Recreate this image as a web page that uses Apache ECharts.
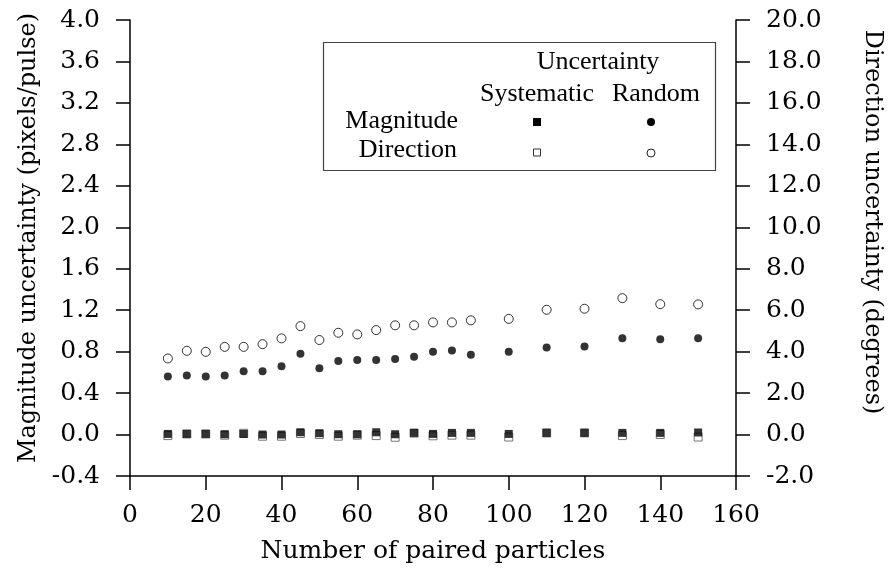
<!DOCTYPE html>
<html>
<head>
<meta charset="utf-8">
<script src="https://cdn.jsdelivr.net/npm/echarts@6/dist/echarts.min.js"></script>
<style>
html,body{margin:0;padding:0;background:#fff;}
#chart{width:892px;height:578px;}
</style>
</head>
<body>
<div id="chart"></div>
<script>
// Number of paired particles
var pairedParticles = [10,15,20,25,30,35,40,45,50,55,60,65,70,75,80,85,90,100,110,120,130,140,150];
// Magnitude uncertainty (pixels/pulse), left axis
var magnitudeSystematic = [0.006,0.006,0.006,0.003,0.006,0.0,0.0,0.022,0.013,0.003,0.003,0.022,0.003,0.016,0.006,0.016,0.016,0.006,0.016,0.016,0.016,0.016,0.02];
var magnitudeRandom = [0.56,0.57,0.56,0.57,0.61,0.61,0.66,0.78,0.64,0.71,0.72,0.72,0.73,0.75,0.80,0.81,0.77,0.80,0.84,0.85,0.93,0.92,0.93];
// Direction uncertainty (degrees), right axis
var directionSystematic = [-0.05,0.03,0.03,-0.03,0.06,-0.08,-0.08,0.05,0.0,-0.08,-0.03,-0.05,-0.13,0.07,-0.06,-0.03,-0.03,-0.12,0.08,0.08,-0.05,0.0,-0.12];
var directionRandom = [3.67,4.04,3.99,4.23,4.23,4.36,4.64,5.23,4.56,4.91,4.83,5.04,5.27,5.27,5.41,5.41,5.51,5.58,6.02,6.07,6.58,6.29,6.28];

var xAxisName = 'Number of paired particles';
var leftAxisName = 'Magnitude uncertainty (pixels/pulse)';
var rightAxisName = 'Direction uncertainty (degrees)';
var legendHeader = 'Uncertainty';
var legendColumns = ['Systematic', 'Random'];
var legendRows = ['Magnitude', 'Direction'];

function pairs(xs, ys) { return xs.map(function (x, i) { return [x, ys[i]]; }); }

var axisFont = 'DejaVu Serif';
var legendFont = 'Liberation Serif';
var axisLine = { show: true, onZero: false, lineStyle: { color: '#000', width: 1.5 } };
var axisTick = { show: true, length: 14, inside: false, lineStyle: { color: '#000', width: 1.5 } };
var lf = '26px "' + legendFont + '"';

var chart = echarts.init(document.getElementById('chart'), null, { renderer: 'canvas' });
chart.setOption({
  backgroundColor: '#fff',
  animation: false,
  grid: { left: 130, right: 155, top: 20, bottom: 102, containLabel: false },
  xAxis: {
    type: 'value', min: 0, max: 160, interval: 20,
    name: xAxisName, nameLocation: 'middle', nameGap: 63,
    nameTextStyle: { fontFamily: axisFont, fontSize: 25, color: '#000' },
    axisLine: axisLine, axisTick: axisTick, splitLine: { show: false },
    axisLabel: { margin: 27, fontFamily: axisFont, fontSize: 25, color: '#000' }
  },
  yAxis: [{
    type: 'value', position: 'left', min: -0.4, max: 4.0, interval: 0.4,
    name: leftAxisName, nameLocation: 'middle', nameGap: 86, nameRotate: 90,
    nameTextStyle: { fontFamily: axisFont, fontSize: 24, color: '#000', padding: [0, 0, 0, 20] },
    axisLine: axisLine, axisTick: axisTick, splitLine: { show: false },
    axisLabel: { margin: 30, fontFamily: axisFont, fontSize: 25, color: '#000',
      formatter: function (v) { return (Math.round(v * 10) / 10).toFixed(1); } }
  }, {
    type: 'value', position: 'right', min: -2, max: 20, interval: 2,
    name: rightAxisName, nameLocation: 'middle', nameGap: 124, nameRotate: -90,
    nameTextStyle: { fontFamily: axisFont, fontSize: 24, color: '#000', padding: [0, 52, 0, 0] },
    axisLine: axisLine, axisTick: axisTick, splitLine: { show: false },
    axisLabel: { margin: 30, fontFamily: axisFont, fontSize: 25, color: '#000',
      formatter: function (v) { return (Math.round(v * 10) / 10).toFixed(1); } }
  }],
  series: [{
    name: 'Direction systematic', type: 'scatter', yAxisIndex: 1,
    symbol: 'rect', symbolSize: 8,
    itemStyle: { color: '#fff', borderColor: '#555', borderWidth: 1 },
    data: pairs(pairedParticles, directionSystematic)
  }, {
    name: 'Magnitude systematic', type: 'scatter', yAxisIndex: 0,
    symbol: 'rect', symbolSize: 8,
    itemStyle: { color: '#000' },
    data: pairs(pairedParticles, magnitudeSystematic)
  }, {
    name: 'Direction random', type: 'scatter', yAxisIndex: 1,
    symbol: 'circle', symbolSize: 9,
    itemStyle: { color: '#fff', borderColor: '#000', borderWidth: 1 },
    data: pairs(pairedParticles, directionRandom)
  }, {
    name: 'Magnitude random', type: 'scatter', yAxisIndex: 0,
    symbol: 'circle', symbolSize: 8,
    itemStyle: { color: '#000' },
    data: pairs(pairedParticles, magnitudeRandom)
  }],
  graphic: [
    { type: 'rect', shape: { x: 323.5, y: 42.5, width: 392, height: 128 },
      style: { fill: '#fff', stroke: '#444', lineWidth: 1.2 }, z: 10 },
    { type: 'text', x: 598, y: 62, z: 11, style: { text: legendHeader, font: lf, fill: '#000', align: 'center', verticalAlign: 'middle' } },
    { type: 'text', x: 537, y: 94, z: 11, style: { text: legendColumns[0], font: lf, fill: '#000', align: 'center', verticalAlign: 'middle' } },
    { type: 'text', x: 656, y: 94, z: 11, style: { text: legendColumns[1], font: lf, fill: '#000', align: 'center', verticalAlign: 'middle' } },
    { type: 'text', x: 458, y: 121, z: 11, style: { text: legendRows[0], font: lf, fill: '#000', align: 'right', verticalAlign: 'middle' } },
    { type: 'text', x: 457, y: 150, z: 11, style: { text: legendRows[1], font: lf, fill: '#000', align: 'right', verticalAlign: 'middle' } },
    { type: 'rect', z: 11, shape: { x: 533, y: 118, width: 8, height: 8 }, style: { fill: '#000' } },
    { type: 'circle', z: 11, shape: { cx: 651, cy: 122, r: 4 }, style: { fill: '#000' } },
    { type: 'rect', z: 11, shape: { x: 533.5, y: 149, width: 7, height: 7 }, style: { fill: '#fff', stroke: '#333', lineWidth: 1 } },
    { type: 'circle', z: 11, shape: { cx: 651, cy: 153, r: 4 }, style: { fill: '#fff', stroke: '#222', lineWidth: 1 } }
  ]
});
</script>
</body>
</html>
